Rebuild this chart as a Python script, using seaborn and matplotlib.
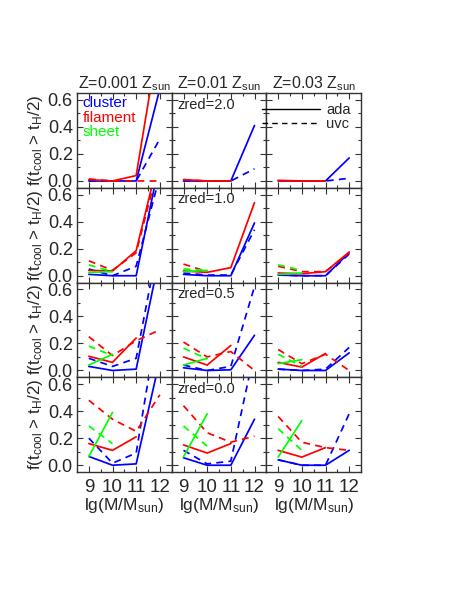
import numpy as np
import pandas as pd
import matplotlib
matplotlib.use("Agg")
import matplotlib.pyplot as plt
from matplotlib.lines import Line2D
from matplotlib.ticker import MultipleLocator
import seaborn as sns

nan = np.nan
mass = [9, 10, 11, 12]
metallicity = ["Z=0.001 Z$_{\\mathrm{sun}}$", "Z=0.01 Z$_{\\mathrm{sun}}$", "Z=0.03 Z$_{\\mathrm{sun}}$"]
redshifts = ["zred=2.0", "zred=1.0", "zred=0.5", "zred=0.0"]
environments = ["cluster", "filament", "sheet"]

# [row(redshift)][col(metallicity)] -> values at mass 9,10,11,12
cluster_ada = [
    [[0.0, 0.0, 0.0, 0.68], [0.0, 0.0, 0.0, 0.41], [0.0, 0.0, 0.0, 0.17]],
    [[0.01, 0.0, 0.0, 0.85], [0.01, 0.0, 0.0, 0.39], [0.005, 0.0, 0.0, 0.17]],
    [[0.03, 0.0, 0.01, 0.85], [0.02, 0.0, 0.005, 0.26], [0.01, 0.0, 0.0, 0.13]],
    [[0.065, 0.0, 0.01, 0.78], [0.055, 0.0, 0.0, 0.34], [0.04, 0.0, 0.0, 0.11]],
]
cluster_uvc = [
    [[0.0, 0.0, 0.0, 0.31], [0.0, 0.0, 0.0, 0.09], [0.0, 0.0, 0.0, 0.02]],
    [[0.05, 0.0, 0.07, 0.74], [0.02, 0.005, 0.005, 0.34], [0.005, 0.0, 0.0, 0.16]],
    [[0.09, 0.03, 0.09, 1.0], [0.04, 0.0, 0.03, 0.62], [0.01, 0.0, 0.01, 0.17]],
    [[0.2, 0.015, 0.09, 1.15], [0.11, 0.01, 0.03, 0.84], [0.04, 0.0, 0.0, 0.38]],
]
filament_ada = [
    [[0.01, 0.0, 0.04, 1.1], [0.01, 0.0, 0.0, nan], [0.005, 0.0, 0.0, nan]],
    [[0.04, 0.035, 0.185, 0.9], [0.035, 0.025, 0.06, 0.54], [0.02, 0.015, 0.03, 0.175]],
    [[0.105, 0.06, 0.24, nan], [0.1, 0.04, 0.185, nan], [0.06, 0.025, 0.126, nan]],
    [[0.16, 0.11, 0.21, nan], [0.15, 0.09, 0.16, nan], [0.11, 0.06, 0.13, nan]],
]
filament_uvc = [
    [[0.015, 0.0, 0.0, 0.0], [0.01, 0.0, 0.0, nan], [0.0, 0.0, 0.0, nan]],
    [[0.11, 0.04, 0.17, 0.85], [0.086, 0.03, nan, nan], [0.07, 0.03, 0.03, 0.17]],
    [[0.25, 0.11, 0.22, 0.30], [0.21, 0.1, 0.14, 0.0], [0.155, 0.05, 0.12, 0.0]],
    [[0.48, 0.34, 0.25, 0.52], [0.44, 0.24, 0.17, 0.215], [0.36, 0.17, 0.13, 0.11]],
]
sheet_ada = [
    [[nan, nan, nan, nan], [nan, nan, nan, nan], [nan, nan, nan, nan]],
    [[0.025, 0.03, nan, nan], [0.03, 0.04, nan, nan], [0.01, 0.02, nan, nan]],
    [[0.04, 0.12, nan, nan], [0.04, 0.09, nan, nan], [0.05, 0.08, nan, nan]],
    [[0.064, 0.39, nan, nan], [0.062, 0.38, nan, nan], [0.06, 0.33, nan, nan]],
]
sheet_uvc = [
    [[nan, nan, nan, nan], [nan, nan, nan, nan], [nan, nan, nan, nan]],
    [[0.08, 0.03, nan, nan], [0.05, 0.04, nan, nan], [0.08, 0.04, nan, nan]],
    [[0.18, 0.11, nan, nan], [0.165, 0.086, nan, nan], [0.12, 0.03, nan, nan]],
    [[0.29, 0.16, nan, nan], [0.29, 0.14, nan, nan], [0.27, 0.11, nan, nan]],
]

sns.set_style("ticks")
plt.rcParams["font.family"] = ["Liberation Sans", "DejaVu Sans"]
plt.rcParams["mathtext.fontset"] = "custom"
plt.rcParams["mathtext.rm"] = "Liberation Sans"
plt.rcParams["mathtext.it"] = "Liberation Sans:italic"

colors = {"cluster": "#0000ff", "filament": "#ff0000", "sheet": "#00ff00"}
series = [
    ("cluster", cluster_ada, "-"), ("cluster", cluster_uvc, (0, (4, 3))),
    ("filament", filament_ada, "-"), ("filament", filament_uvc, (0, (4, 3))),
    ("sheet", sheet_ada, "-"), ("sheet", sheet_uvc, (0, (4, 3))),
]

fig, axes = plt.subplots(4, 3, figsize=(4.57, 5.91), dpi=100)
fig.subplots_adjust(left=77/457, right=361/457, top=1-93/591, bottom=1-472/591,
                    wspace=0, hspace=0)

ylab = "f(t$_{\\mathrm{cool}}$ > t$_{\\mathrm{H}}$/2)"
xlab = "lg(M/M$_{\\mathrm{sun}}$)"

for r in range(4):
    for c in range(3):
        ax = axes[r, c]
        for env, arr, ls in series:
            vals = arr[r][c]
            if all(np.isnan(v) for v in vals):
                continue
            df = pd.DataFrame({"m": mass, "f": vals}).dropna()
            sns.lineplot(data=df, x="m", y="f", ax=ax, color=colors[env],
                         linestyle=ls, lw=1.25, estimator=None, sort=False)
        ax.set_xlim(8.5, 12.5)
        ax.set_ylim(-0.05, 0.65)
        ax.xaxis.set_major_locator(MultipleLocator(1))
        ax.xaxis.set_minor_locator(MultipleLocator(0.5))
        ax.yaxis.set_major_locator(MultipleLocator(0.2))
        ax.yaxis.set_minor_locator(MultipleLocator(0.1))
        ax.tick_params(which="both", direction="in", top=True, right=True,
                       color="#333333")
        ax.tick_params(which="major", length=4, width=0.8)
        ax.tick_params(which="minor", length=2.2, width=0.8)
        ax.tick_params(axis="x", labelsize=13.5, pad=5)
        ax.tick_params(axis="y", labelsize=13, pad=3)
        for sp in ax.spines.values():
            sp.set_color("#333333")
            sp.set_linewidth(1.0)
        ax.set_xlabel("")
        ax.set_ylabel("")
        if r < 3:
            ax.set_xticklabels([])
        else:
            ax.set_xlabel(xlab, fontsize=12.5, labelpad=0)
        if c > 0:
            ax.set_yticklabels([])
        else:
            ax.set_yticks([0.0, 0.2, 0.4, 0.6])
            ax.set_yticklabels(["0.0", "0.2", "0.4", "0.6"])
            ax.set_ylabel(ylab, fontsize=12.2, labelpad=2)
        if r == 0:
            ax.set_title(metallicity[c], fontsize=11.5, pad=3)
        if c == 1:
            ax.text(0.06, 0.95, redshifts[r], transform=ax.transAxes,
                    fontsize=10.5, va="top", ha="left")

# environment labels
for i, env in enumerate(environments):
    axes[0, 0].text(0.06, 0.97 - i * 0.155, env, transform=axes[0, 0].transAxes,
                    color=colors[env], fontsize=11, va="top", ha="left")

handles = [Line2D([], [], color="black", lw=1.0, linestyle="-"),
           Line2D([], [], color="black", lw=1.0, linestyle=(0, (4, 3)))]
axes[0, 2].legend(handles, ["ada", "uvc"], loc="upper right", frameon=False,
                  fontsize=10.5, handlelength=4.0, handletextpad=0.4,
                  labelspacing=0.0, borderaxespad=0.3)

fig.savefig("out.png", dpi=100)
